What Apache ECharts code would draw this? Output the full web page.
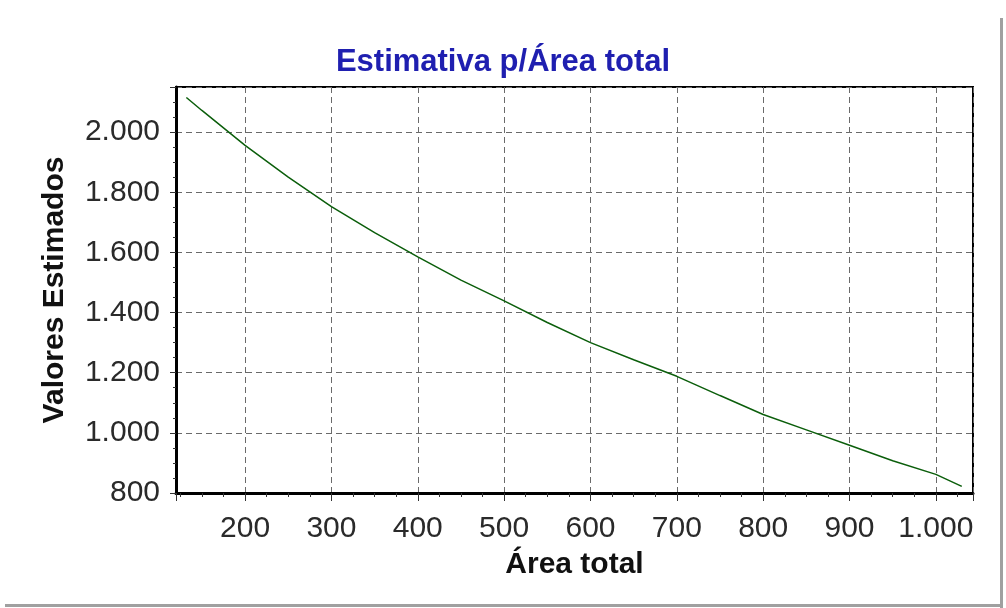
<!DOCTYPE html>
<html>
<head>
<meta charset="utf-8">
<script src="https://cdn.jsdelivr.net/npm/echarts@6/dist/echarts.min.js"></script>
<style>html,body{margin:0;padding:0;background:#fff;}#c{width:1006px;height:608px;}</style>
</head>
<body>
<div id="c"></div>
<script>
var titleText = 'Estimativa p/Área total';
var xName = 'Área total';
var yName = 'Valores Estimados';
var areaTotal = [132, 150, 200, 250, 300, 350, 400, 450, 500, 550, 600, 650, 700, 750, 800, 850, 900, 950, 1000, 1030];
var valores = [2115, 2072, 1956, 1850, 1752, 1666, 1585, 1508, 1439, 1367, 1300, 1243, 1188, 1124, 1061, 1010, 959, 907, 862, 822];

function fmt(v){ return String(Math.round(v)).replace(/\B(?=(\d{3})+(?!\d))/g, '.'); }
var FONT = '"Liberation Sans", Arial, sans-serif';
var chart = echarts.init(document.getElementById('c'));
var data = areaTotal.map(function(x,i){ return [x, valores[i]]; });
chart.setOption({
  animation: false,
  backgroundColor: '#fff',
  title: { text: titleText, left: 'center', top: 42, textStyle: { color: '#1f1fb0', fontSize: 31, fontWeight: 'bold', fontFamily: FONT } },
  grid: { left: 176, top: 87, right: 33, bottom: 115, show: true, borderColor: '#000', borderWidth: 2 },
  xAxis: {
    type: 'value', min: 120, max: 1043, splitNumber: 9,
    name: xName, nameLocation: 'middle', nameGap: 57,
    nameTextStyle: { color: '#111', fontSize: 30, fontWeight: 'bold', fontFamily: FONT },
    axisLine: { show: true, lineStyle: { color: '#000', width: 3 } },
    axisTick: { show: true, length: 8, lineStyle: { color: '#333' } },
    minorTick: { show: true, splitNumber: 4, length: 4, lineStyle: { color: '#333' } },
    axisLabel: { showMinLabel: false, showMaxLabel: false, formatter: fmt, color: '#2a2a2a', fontSize: 30, fontFamily: FONT, margin: 21 },
    splitLine: { show: true, lineStyle: { color: '#6a6a6a', type: [6, 4], width: 1 } }
  },
  yAxis: {
    type: 'value', min: 800, max: 2150, interval: 200,
    name: yName, nameLocation: 'middle', nameGap: 106, nameRotate: 90,
    nameTextStyle: { color: '#111', fontSize: 30, fontWeight: 'bold', fontFamily: FONT },
    axisLine: { show: true, lineStyle: { color: '#000', width: 3 } },
    axisTick: { show: true, length: 6, lineStyle: { color: '#333' } },
    minorTick: { show: true, splitNumber: 4, length: 3, lineStyle: { color: '#333' } },
    axisLabel: { showMaxLabel: false, formatter: fmt, color: '#2a2a2a', fontSize: 30, fontFamily: FONT, margin: 16 },
    splitLine: { show: true, lineStyle: { color: '#6a6a6a', type: [6, 4], width: 1 } }
  },
  series: [{ type: 'line', data: data, showSymbol: false, smooth: false, lineStyle: { color: '#0b5e0b', width: 1.5 } }],
  graphic: [
    { type: 'rect', shape: { x: 1000, y: 18, width: 3, height: 590 }, style: { fill: '#a0a0a0' } },
    { type: 'rect', shape: { x: 5, y: 604, width: 998, height: 3 }, style: { fill: '#a0a0a0' } }
  ]
});
</script>
</body>
</html>
